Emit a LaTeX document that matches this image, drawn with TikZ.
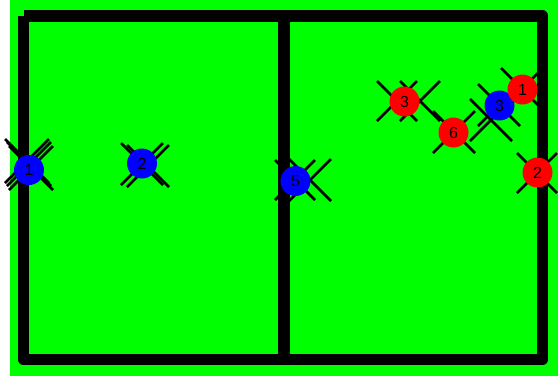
\documentclass[tikz,border=0pt]{standalone}
\usepackage{fontspec}
\setmainfont{Liberation Sans}
\usepackage{tikz}
\usetikzlibrary{positioning}
\definecolor{field}{RGB}{0,255,0}
\definecolor{teamblue}{RGB}{0,0,255}
\definecolor{teamred}{RGB}{255,0,0}

\begin{document}
\begin{tikzpicture}[
  x=1pt, y=-1pt,
  robot/.style={circle, minimum size=30pt, inner sep=0pt,
                font=\fontsize{16}{16}\selectfont, text=black},
  wall/.style={line width=11.5pt, black, line join=round},
  xline/.style={line width=2.5pt, black},
  trail/.pic={\draw[xline] (-#1,-#1) -- (#1,#1) (-#1,#1) -- (#1,-#1);}
]
  % Field
  \useasboundingbox (0,0) rectangle (558,376);
  \fill[white] (0,0) rectangle (558,376);
  \fill[field] (10,0) rectangle (558,376);

  % Walls
  \draw[wall] (23.5,15.75) -- (542.5,15.75) -- (542.5,359.5)
              -- (23.5,359.5) -- (23.5,15.75);
  \draw[wall, line width=12pt] (284,15.75) -- (284,359.5);

  % Trails (left half)
  \pic at (27,161) {trail=22};
  \pic at (29,164) {trail=22};
  \pic at (31,168) {trail=22};
  \pic at (142,164) {trail=21};
  \pic at (148,166) {trail=21};
  \pic at (295,180) {trail=20};
  \pic at (310,180) {trail=21};

  % Trails (right half)
  \pic at (397,101) {trail=20};
  \pic at (420,101) {trail=20};
  \pic at (454,132) {trail=21};
  \pic at (499,105) {trail=21};
  \pic at (491,120) {trail=21};
  \pic at (522,89)  {trail=21};
  \pic at (537,173) {trail=20};

  % Blue robots
  \node[robot, fill=teamblue] (blue1) at (29,170)    {1};
  \node[robot, fill=teamblue] (blue2) at (142,163.5) {2};
  \node[robot, fill=teamblue] (blue5) at (295.5,181) {5};
  \node[robot, fill=teamblue] (blue3) at (499.5,105.5) {3};

  % Red robots
  \node[robot, fill=teamred] (red3) at (404.5,101.5) {3};
  \node[robot, fill=teamred] (red6) at (453.5,132.5) {6};
  \node[robot, fill=teamred] (red1) at (522.5,89.5)  {1};
  \node[robot, fill=teamred] (red2) at (537.5,172.5) {2};
\end{tikzpicture}
\end{document}
